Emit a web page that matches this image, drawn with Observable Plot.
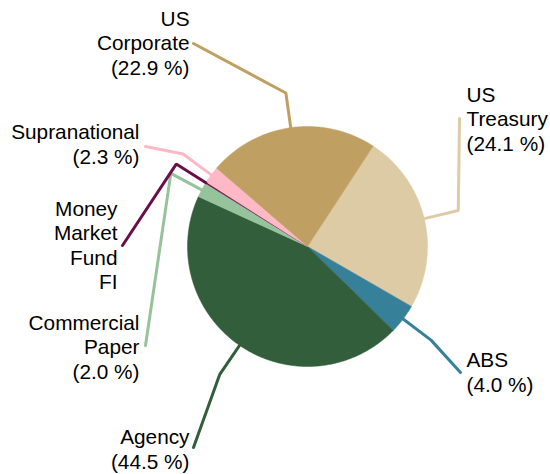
<!DOCTYPE html>
<html><head><meta charset="utf-8">
<script src="https://cdn.jsdelivr.net/npm/d3@7"></script>
<script src="https://cdn.jsdelivr.net/npm/@observablehq/plot@0.6"></script>
<style>body{margin:0;background:#fff}</style>
</head><body><div id="chart"></div>
<script>
// ---- data ----
const sectors = ["US Treasury","ABS","Agency","Commercial Paper","Money Market Fund FI","Supranational","US Corporate"];
const shares  = [24.1, 4.0, 44.5, 2.0, 0.2, 2.3, 22.9];
const colors  = ["#DDCBA6","#37809A","#335E3B","#96C29C","#6B0F4A","#FFB8C6","#C0A062"];

// ---- layout (pixels, relative to pie centre) ----
const W = 550, H = 474, CX = 307, CY = 246, R = 120, ELBOW = 155;
const startDeg = 33.2;
const labelLayout = {
  "US Treasury":          {end:[152,-128], text:[159,-128], anchor:"start"},
  "ABS":                  {end:[153,126],  text:[159,125],  anchor:"start"},
  "Agency":               {end:[-114,201], text:[-118,202], anchor:"end"},
  "Commercial Paper":     {end:[-162,99],  text:[-168,100], anchor:"end"},
  "Money Market Fund FI": {end:[-185,-1],  text:[-190,-2],  anchor:"end"},
  "Supranational":        {end:[-162,-100],text:[-168,-103],anchor:"end"},
  "US Corporate":         {end:[-114,-203],text:[-118,-204],anchor:"end"}
};

const rows = sectors.map((s, i) => ({sector: s, value: shares[i]}));
const a0 = startDeg * Math.PI / 180;
const arcs = d3.pie().sort(null).value(d => d.value).startAngle(a0).endAngle(a0 + 2 * Math.PI)(rows);

const polar = (a, r) => ({x: r * Math.sin(a), y: -r * Math.cos(a)});

// wedge outlines
const wedgePts = [];
for (const arc of arcs) {
  const s = arc.data.sector;
  wedgePts.push({sector: s, x: 0, y: 0});
  const n = Math.max(2, Math.ceil((arc.endAngle - arc.startAngle) / 0.01));
  for (let k = 0; k <= n; k++) {
    const a = arc.startAngle + (arc.endAngle - arc.startAngle) * k / n;
    wedgePts.push({sector: s, ...polar(a, R)});
  }
  wedgePts.push({sector: s, x: 0, y: 0});
}

// leader lines
const leaderPts = [];
const labels = [];
const fmt = d3.format(".1f");
for (const arc of arcs) {
  const s = arc.data.sector;
  const mid = (arc.startAngle + arc.endAngle) / 2;
  const L = labelLayout[s];
  leaderPts.push({sector: s, ...polar(mid, R)});
  leaderPts.push({sector: s, ...polar(mid, ELBOW)});
  leaderPts.push({sector: s, x: L.end[0], y: L.end[1]});
  let t = s.split(" ").join("\n");
  if (arc.data.value >= 1) t += `\n(${fmt(arc.data.value)} %)`;
  labels.push({sector: s, x: L.text[0], y: L.text[1], text: t, anchor: L.anchor});
}

const textOpts = {x: "x", y: "y", text: "text", fontSize: 20.8, lineHeight: 1.18, fill: "#000", lineAnchor: "middle"};

const chart = Plot.plot({
  width: W, height: H, margin: 0,
  style: {fontFamily: "'Liberation Sans', Arial, sans-serif", background: "#fff"},
  x: {domain: [-CX, W - CX], range: [0, W], axis: null},
  y: {domain: [-CY, H - CY], range: [0, H], axis: null},
  color: {domain: sectors, range: colors},
  marks: [
    Plot.line(wedgePts, {x: "x", y: "y", z: "sector", fill: "sector", stroke: "sector", strokeWidth: 0.5, curve: "linear"}),
    Plot.line(leaderPts, {x: "x", y: "y", z: "sector", stroke: "sector", strokeWidth: 3, strokeLinejoin: "miter", curve: "linear"}),
    Plot.text(labels.filter(d => d.anchor === "start"), {...textOpts, textAnchor: "start"}),
    Plot.text(labels.filter(d => d.anchor === "end"), {...textOpts, textAnchor: "end"})
  ]
});
document.getElementById("chart").appendChild(chart);
</script>
</body></html>
